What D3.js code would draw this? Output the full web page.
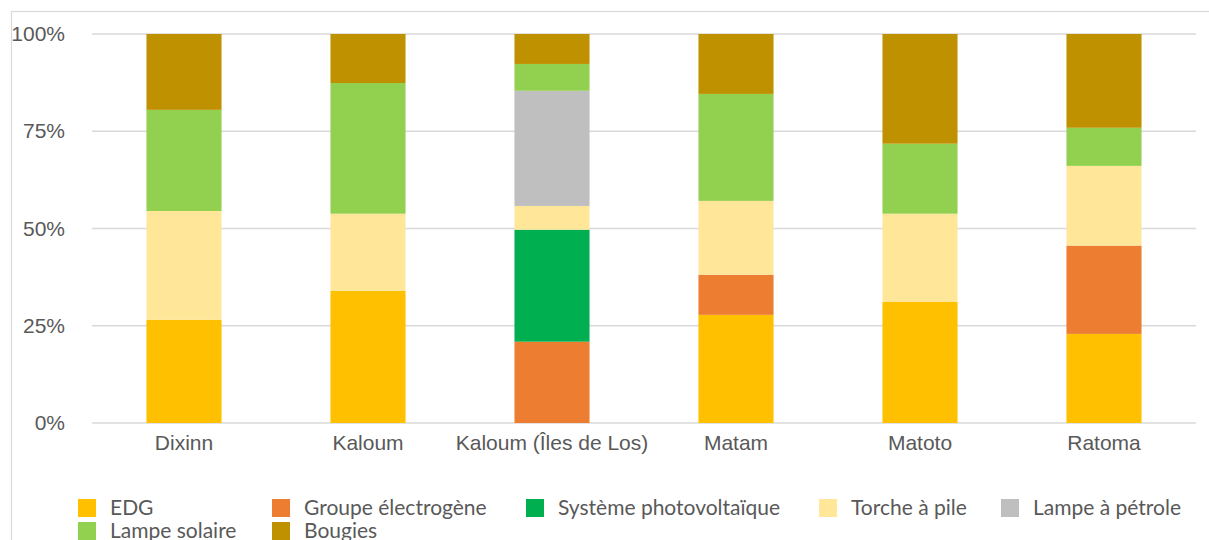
<!DOCTYPE html>
<html>
<head>
<meta charset="utf-8">
<script src="https://cdn.jsdelivr.net/npm/d3@7"></script>
<style>
  html, body { margin: 0; padding: 0; background: #fff; }
  svg { display: block; font-family: Lato, "Noto Sans", sans-serif; }
</style>
</head>
<body>
<div id="chart"></div>
<script>
const categories = ['Dixinn', 'Kaloum', 'Kaloum (Îles de Los)', 'Matam', 'Matoto', 'Ratoma'];
const seriesNames = ['EDG', 'Groupe électrogène', 'Système photovoltaïque', 'Torche à pile', 'Lampe à pétrole', 'Lampe solaire', 'Bougies'];
const seriesColors = ['#FFC000', '#ED7D31', '#00B050', '#FFE699', '#BFBFBF', '#92D050', '#BF9000'];

// share of each lighting source (%) per commune
const edg      = [26.5, 34.0,  0.0, 27.8, 31.2, 22.9];
const groupe   = [ 0.0,  0.0, 20.9, 10.3,  0.0, 22.7];
const pv       = [ 0.0,  0.0, 28.8,  0.0,  0.0,  0.0];
const torche   = [28.0, 19.8,  6.1, 19.0, 22.6, 20.5];
const petrole  = [ 0.0,  0.0, 29.6,  0.0,  0.0,  0.0];
const solaire  = [26.0, 33.6,  6.9, 27.5, 18.0,  9.8];
const bougies  = [19.5, 12.6,  7.7, 15.4, 28.2, 24.1];

const yTicks = [0, 0.25, 0.5, 0.75, 1];

const seriesValues = [edg, groupe, pv, torche, petrole, solaire, bougies];
const rows = categories.map((c, i) => {
  const row = { category: c };
  seriesNames.forEach((s, j) => { row[s] = seriesValues[j][i]; });
  return row;
});

const W = 1209, H = 540;
const margin = { top: 34, right: 13, bottom: 117, left: 92 };
const innerW = W - margin.left - margin.right;
const innerH = H - margin.top - margin.bottom;
const fontSize = '21px';
const textColor = '#595959';

const svg = d3.select('#chart').append('svg')
  .attr('width', W)
  .attr('height', H);

// chart frame (clipped at right and bottom like the source)
svg.append('rect')
  .attr('x', 11.5).attr('y', 11.5)
  .attr('width', W).attr('height', H)
  .attr('fill', 'none')
  .attr('stroke', '#d9d9d9')
  .attr('stroke-width', 1.2);

const g = svg.append('g')
  .attr('transform', `translate(${margin.left},${margin.top})`);

const x = d3.scaleBand()
  .domain(categories)
  .range([0, innerW])
  .paddingInner(0.592)
  .paddingOuter(0.296);

const y = d3.scaleLinear()
  .domain([0, 1])
  .range([innerH, 0]);

// gridlines
g.append('g')
  .selectAll('line')
  .data(yTicks)
  .join('line')
  .attr('x1', 0)
  .attr('x2', innerW)
  .attr('y1', d => y(d))
  .attr('y2', d => y(d))
  .attr('stroke', '#d9d9d9')
  .attr('stroke-width', 1.5);

// y axis labels
const yAxis = g.append('g')
  .call(d3.axisLeft(y).tickValues(yTicks).tickFormat(d3.format('.0%')).tickSize(0).tickPadding(27));
yAxis.select('.domain').remove();
yAxis.selectAll('text')
  .attr('fill', textColor)
  .style('font-size', fontSize);

// stacked bars
const stack = d3.stack()
  .keys(seriesNames)
  .offset(d3.stackOffsetExpand);
const stacked = stack(rows);

g.append('g')
  .selectAll('g')
  .data(stacked)
  .join('g')
  .attr('fill', (d, i) => seriesColors[i])
  .selectAll('rect')
  .data(d => d)
  .join('rect')
  .attr('x', d => x(d.data.category))
  .attr('y', d => y(d[1]))
  .attr('width', x.bandwidth())
  .attr('height', d => Math.max(0, y(d[0]) - y(d[1])));

// x axis labels
const xAxis = g.append('g')
  .attr('transform', `translate(0,${innerH})`)
  .call(d3.axisBottom(x).tickSize(0).tickPadding(12));
xAxis.select('.domain').remove();
xAxis.selectAll('text')
  .attr('fill', textColor)
  .style('font-size', fontSize);

// legend, two rows, columns sized like the original
const legendCols = [78, 272, 526, 819, 1001];
const legendRowY = [499, 522];
const legend = svg.append('g');
seriesNames.forEach((name, i) => {
  const col = i % 5;
  const row = Math.floor(i / 5);
  const item = legend.append('g')
    .attr('transform', `translate(${legendCols[col]},${legendRowY[row]})`);
  item.append('rect')
    .attr('width', 18)
    .attr('height', 18)
    .attr('fill', seriesColors[i]);
  item.append('text')
    .attr('x', 32)
    .attr('y', 16)
    .attr('fill', textColor)
    .style('font-size', fontSize)
    .text(name);
});
</script>
</body>
</html>
